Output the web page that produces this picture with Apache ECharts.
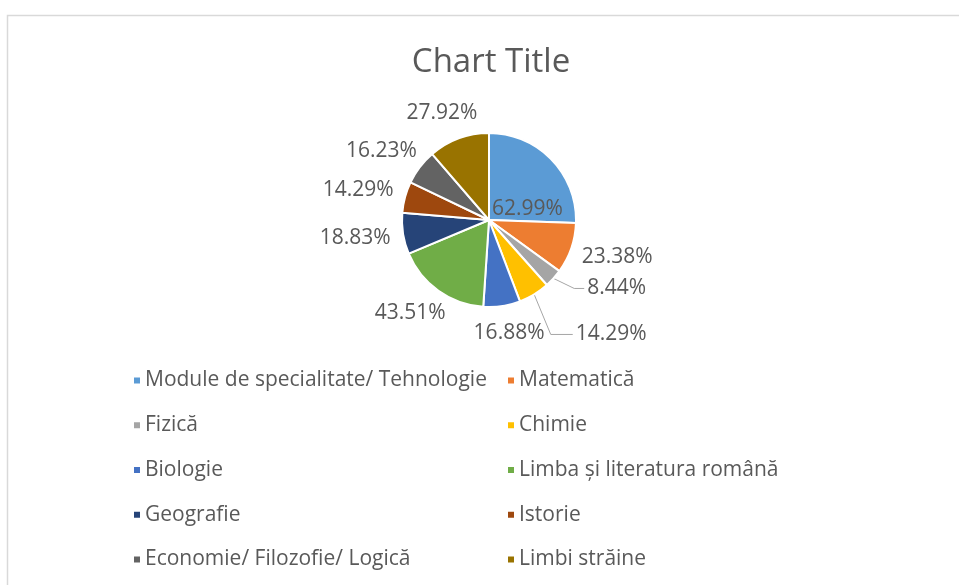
<!DOCTYPE html>
<html>
<head>
<meta charset="utf-8">
<title>Chart Title</title>
<script src="https://cdn.jsdelivr.net/npm/echarts@6/dist/echarts.min.js"></script>
<style>
  html, body { margin: 0; padding: 0; background: #fff; }
  #chart { width: 959px; height: 585px; }
</style>
</head>
<body>
<div id="chart"></div>
<script>
// categories and values (shown as percentages)
var subjects = [
  'Module de specialitate/ Tehnologie', 'Matematică', 'Fizică', 'Chimie', 'Biologie',
  'Limba și literatura română', 'Geografie', 'Istorie', 'Economie/ Filozofie/ Logică', 'Limbi străine'
];
var values = [62.99, 23.38, 8.44, 14.29, 16.88, 43.51, 18.83, 14.29, 16.23, 27.92];
var colors = ['#5B9BD5', '#ED7D31', '#A5A5A5', '#FFC000', '#4472C4',
              '#70AD47', '#264478', '#9E480E', '#636363', '#997300'];

var fontFam = '"Open Sans", "Noto Sans", sans-serif';
var cx = 489, cy = 220, radius = 87;

// mid angle of each slice (clockwise from 12 o'clock)
var total = values.reduce(function (a, b) { return a + b; }, 0);
var midAngles = [];
var acc = 0;
values.forEach(function (v) {
  midAngles.push((acc + v / 2) / total * Math.PI * 2);
  acc += v;
});

var pieData = subjects.map(function (s, i) {
  var d = { name: s, value: values[i] };
  if (i === 0) {
    d.label = { position: 'inside', offset: [5, 21] };
  }
  if (i === 2) {
    d.labelLine = { show: true, length: 15, length2: 10 };
  }
  if (i === 3) {
    d.labelLine = { show: true, length: 32, length2: 22 };
  }
  return d;
});

var leftCol = subjects.filter(function (s, i) { return i % 2 === 0; });
var rightCol = subjects.filter(function (s, i) { return i % 2 === 1; });

var legendBase = {
  orient: 'vertical',
  top: 365,
  itemGap: 23.75,
  itemWidth: 8,
  itemHeight: 8,
  icon: 'rect',
  selectedMode: false,
  textStyle: { color: '#595959', fontSize: 21, fontFamily: fontFam, padding: [0, 0, 0, -1] }
};

var chart = echarts.init(document.getElementById('chart'));
var option = {
  color: colors,
  animation: false,
  title: {
    text: 'Chart Title',
    left: 486,
    textAlign: 'center',
    top: 41,
    textStyle: { color: '#595959', fontSize: 33, fontWeight: 'normal', fontFamily: fontFam }
  },
  graphic: [{
    type: 'rect',
    shape: { x: 7.5, y: 15.5, width: 1000, height: 1000 },
    style: { fill: 'none', stroke: '#d9d9d9', lineWidth: 1.5 },
    silent: true
  }],
  legend: [
    Object.assign({}, legendBase, { left: 127, data: leftCol }),
    Object.assign({}, legendBase, { left: 501, data: rightCol })
  ],
  series: [{
    type: 'pie',
    center: [cx, cy],
    radius: radius,
    startAngle: 90,
    clockwise: true,
    itemStyle: { borderColor: '#fff', borderWidth: 2 },
    label: {
      show: true,
      position: 'outside',
      distanceToLabelLine: 3,
      formatter: function (p) { return p.value.toFixed(2) + '%'; },
      color: '#595959',
      fontSize: 21,
      fontFamily: fontFam
    },
    labelLine: {
      show: false,
      length: 4,
      length2: 4,
      lineStyle: { color: '#a6a6a6', width: 1 }
    },
    labelLayout: function (p) {
      var i = p.dataIndex;
      if (i === 0 || i === 2 || i === 3) return;
      var ux = Math.sin(midAngles[i]);
      var uy = -Math.cos(midAngles[i]);
      var R = radius + 13;
      return {
        x: cx + R * ux + ux * p.labelRect.width / 2,
        y: cy + R * uy + uy * 14,
        align: 'center',
        verticalAlign: 'middle'
      };
    },
    data: pieData
  }]
};
chart.setOption(option);
</script>
</body>
</html>
